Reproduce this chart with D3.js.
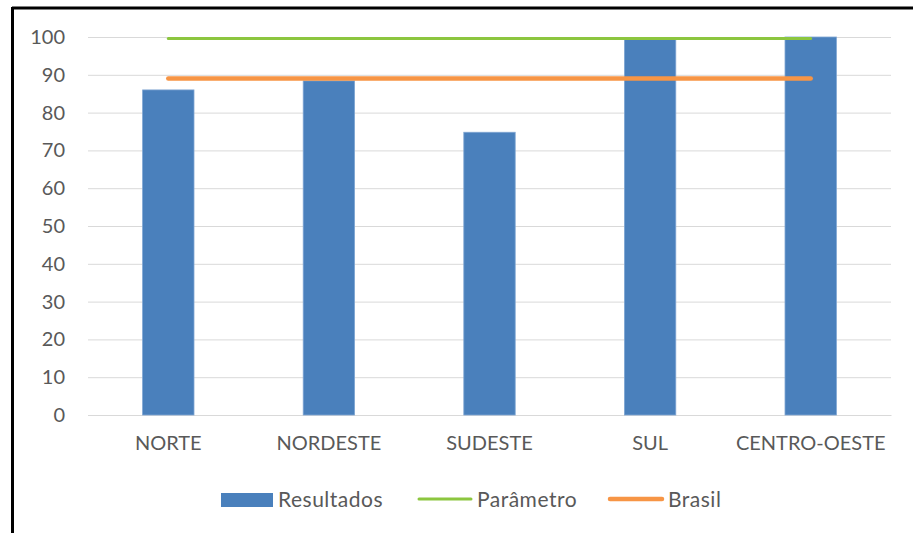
<!DOCTYPE html>
<html>
<head>
<meta charset="utf-8">
<script src="https://cdn.jsdelivr.net/npm/d3@7"></script>
<style>
  html, body { margin: 0; padding: 0; background: #fff; }
  svg { display: block; }
  text { font-family: Lato, "Liberation Sans", sans-serif; fill: #595959; }
</style>
</head>
<body>
<svg id="chart" width="913" height="533"></svg>
<script>
// Regional results vs. reference parameter and national average
const regions = ["NORTE", "NORDESTE", "SUDESTE", "SUL", "CENTRO-OESTE"];
const resultados = [86, 88.4, 74.8, 99.4, 100];
const parametro = [99.6, 99.6, 99.6, 99.6, 99.6];
const brasil = [89, 89, 89, 89, 89];
const yTicks = [0, 10, 20, 30, 40, 50, 60, 70, 80, 90, 100];
const legendItems = ["Resultados", "Parâmetro", "Brasil"];

const colors = { bar: "#4A80BC", param: "#8CC63F", brasil: "#F79545", grid: "#D9D9D9" };

const svg = d3.select("#chart");

// Outer frame (top and left edges visible)
svg.append("line").attr("x1", 12).attr("x2", 913).attr("y1", 8).attr("y2", 8)
  .attr("stroke", "#000").attr("stroke-width", 3);
svg.append("line").attr("x1", 12.5).attr("x2", 12.5).attr("y1", 7).attr("y2", 533)
  .attr("stroke", "#000").attr("stroke-width", 3);

const plot = { left: 88, right: 891, top: 37, bottom: 415 };

const x = d3.scaleBand().domain(regions).range([plot.left, plot.right]).paddingInner(0.68).paddingOuter(0.34);
const xc = d => x(d) + x.bandwidth() / 2;
const y = d3.scaleLinear().domain([0, 100]).range([plot.bottom, plot.top]);

// Horizontal gridlines
const yAxis = d3.axisLeft(y).tickValues(yTicks).tickSize(-(plot.right - plot.left)).tickPadding(23);
const gy = svg.append("g").attr("transform", `translate(${plot.left},0)`).call(yAxis);
gy.select(".domain").remove();
gy.selectAll(".tick line").attr("stroke", colors.grid).attr("stroke-width", 1);
gy.selectAll(".tick text").attr("font-size", 20).attr("fill", "#595959")
  .style("font-family", "Lato, 'Liberation Sans', sans-serif");

// Category axis
const xAxis = d3.axisBottom(x).tickSize(0).tickPadding(21);
const gx = svg.append("g").attr("transform", `translate(0,${plot.bottom})`).call(xAxis);
gx.select(".domain").attr("stroke", colors.grid);
gx.selectAll(".tick text").attr("font-size", 20).attr("fill", "#595959")
  .style("font-family", "Lato, 'Liberation Sans', sans-serif");

// Bars
svg.append("g").selectAll("rect").data(regions).join("rect")
  .attr("x", d => x(d))
  .attr("width", x.bandwidth())
  .attr("y", (d, i) => y(resultados[i]))
  .attr("height", (d, i) => plot.bottom - y(resultados[i]))
  .attr("fill", colors.bar)
  .attr("stroke", "#7FA5D2").attr("stroke-width", 0.8);

// Reference lines
const line = vals => d3.line().x(d => xc(d)).y((d, i) => y(vals[i]))(regions);
svg.append("path").attr("d", line(parametro)).attr("fill", "none")
  .attr("stroke", colors.param).attr("stroke-width", 3).attr("stroke-linecap", "round");
svg.append("path").attr("d", line(brasil)).attr("fill", "none")
  .attr("stroke", colors.brasil).attr("stroke-width", 4.5).attr("stroke-linecap", "round");

// Legend
const legendY = 500;
const lg = svg.append("g");
const legX = [221, 418, 609];
legendItems.forEach((name, i) => {
  const g = lg.append("g").attr("transform", `translate(${legX[i]},${legendY})`);
  if (i === 0) {
    g.append("rect").attr("x", 0).attr("y", -7).attr("width", 52).attr("height", 14).attr("fill", colors.bar);
  } else {
    g.append("line").attr("x1", 1).attr("x2", 53).attr("y1", -1).attr("y2", -1)
      .attr("stroke", i === 1 ? colors.param : colors.brasil)
      .attr("stroke-width", i === 1 ? 3 : 4.5).attr("stroke-linecap", "round");
  }
  g.append("text").attr("x", i === 0 ? 57 : 59).attr("y", 0).attr("dy", "0.35em")
    .attr("font-size", 21).attr("letter-spacing", 0.5).text(name);
});
</script>
</body>
</html>
